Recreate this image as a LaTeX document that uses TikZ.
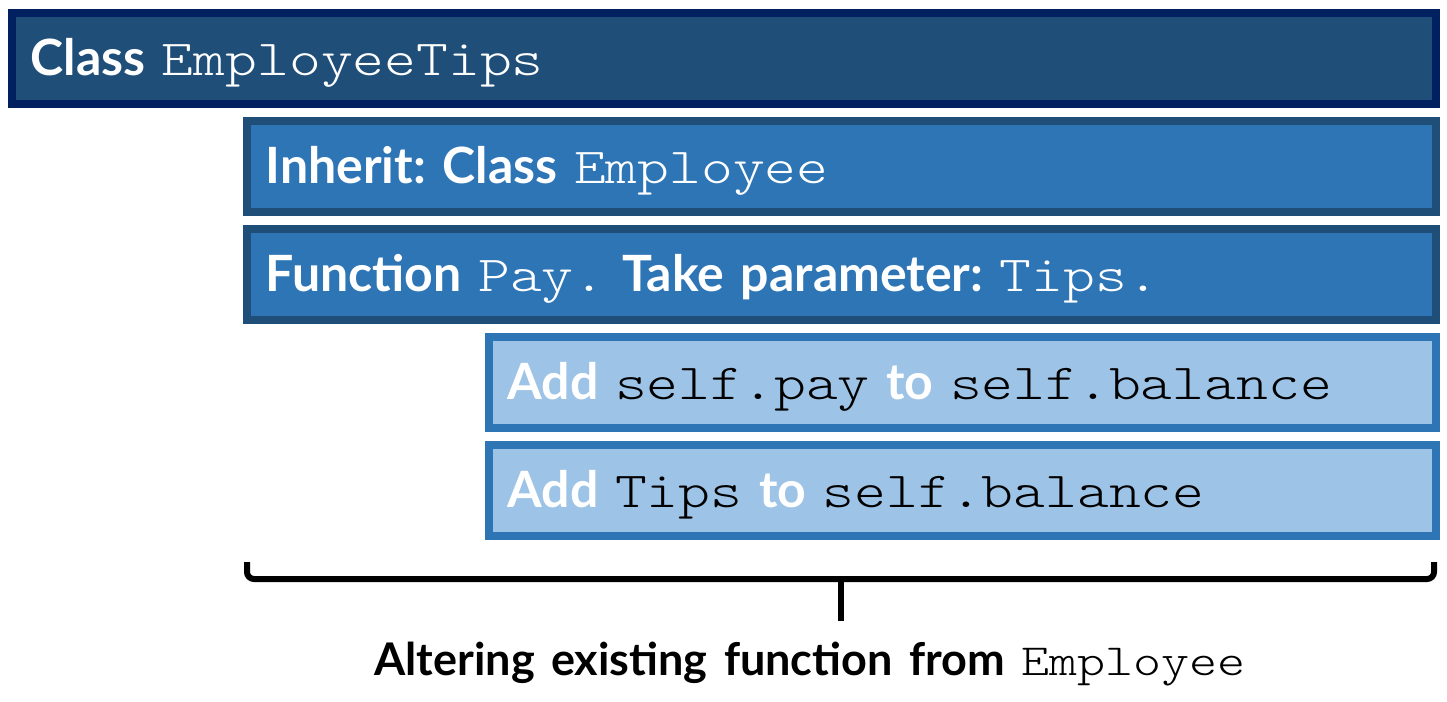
\documentclass[tikz,border=0pt]{standalone}
\usepackage{fontspec}
\setmainfont{Lato}[WordSpace=1.5]
\setmonofont{lmmonolt10-regular.otf}[FakeStretch=1.2]
\frenchspacing
\definecolor{navy}{HTML}{002060}
\definecolor{dblue}{HTML}{1F4E79}
\definecolor{mblue}{HTML}{2E75B6}
\definecolor{lblue}{HTML}{9DC3E6}
\newcommand\mono[1]{{\fontsize{50.5}{60}\selectfont\mdseries\ttfamily #1}}
\newcommand\monosm[1]{{\fontsize{44.5}{52}\selectfont\mdseries\ttfamily #1}}
\begin{document}
\begin{tikzpicture}[x=1pt,y=-1pt,
  box/.style={rectangle, draw, line width=8pt, outer sep=0pt, inner xsep=18.5pt, inner ysep=0pt,
    anchor=north west, minimum height=91pt, text height=44pt, text depth=10pt,
    align=left, text=white, font=\fontsize{50}{56}\selectfont\bfseries},
  navybox/.style={box, draw=navy, fill=dblue},
  midbox/.style={box, draw=dblue, fill=mblue},
  lightbox/.style={box, draw=mblue, fill=lblue},
  brace/.style={line width=6pt, draw=black}]
\fill[white] (0,0) rectangle (1447,701);
\useasboundingbox (0,0) rectangle (1447,701);
\node[navybox, minimum width=1424pt, text width=1387pt] (cls) at (12,13) {Class \mono{EmployeeTips}};
\node[midbox, minimum width=1189pt, text width=1152pt] (inh) at (247,121) {Inherit: Class \mono{Employee}};
\node[midbox, minimum width=1189pt, text width=1152pt] (fun) at (247,229) {Function \mono{Pay.\ }Take parameter: \mono{Tips.}};
\node[lightbox, minimum width=947pt, text width=910pt] (add1) at (489,337) {Add \textcolor{black}{\mono{self.pay}} to \textcolor{black}{\mono{self.balance}}};
\node[lightbox, minimum width=947pt, text width=910pt] (add2) at (489,445) {Add \textcolor{black}{\mono{Tips\ }}to \textcolor{black}{\mono{self.balance}}};
\coordinate (bl) at (247,562);
\coordinate (br) at (1434,562);
\coordinate (bm) at (841,579);
\coordinate (bt) at (841,621);
\draw[brace, rounded corners=7pt] (bl) -- (247,579) -- (1434,579) -- (br);
\draw[brace] (bm) -- (bt);
\node[anchor=base, inner sep=0pt, font=\fontsize{45}{50}\selectfont\bfseries, text=black] (lbl) at (810,675) {Altering existing function from \monosm{Employee}};
\end{tikzpicture}
\end{document}
